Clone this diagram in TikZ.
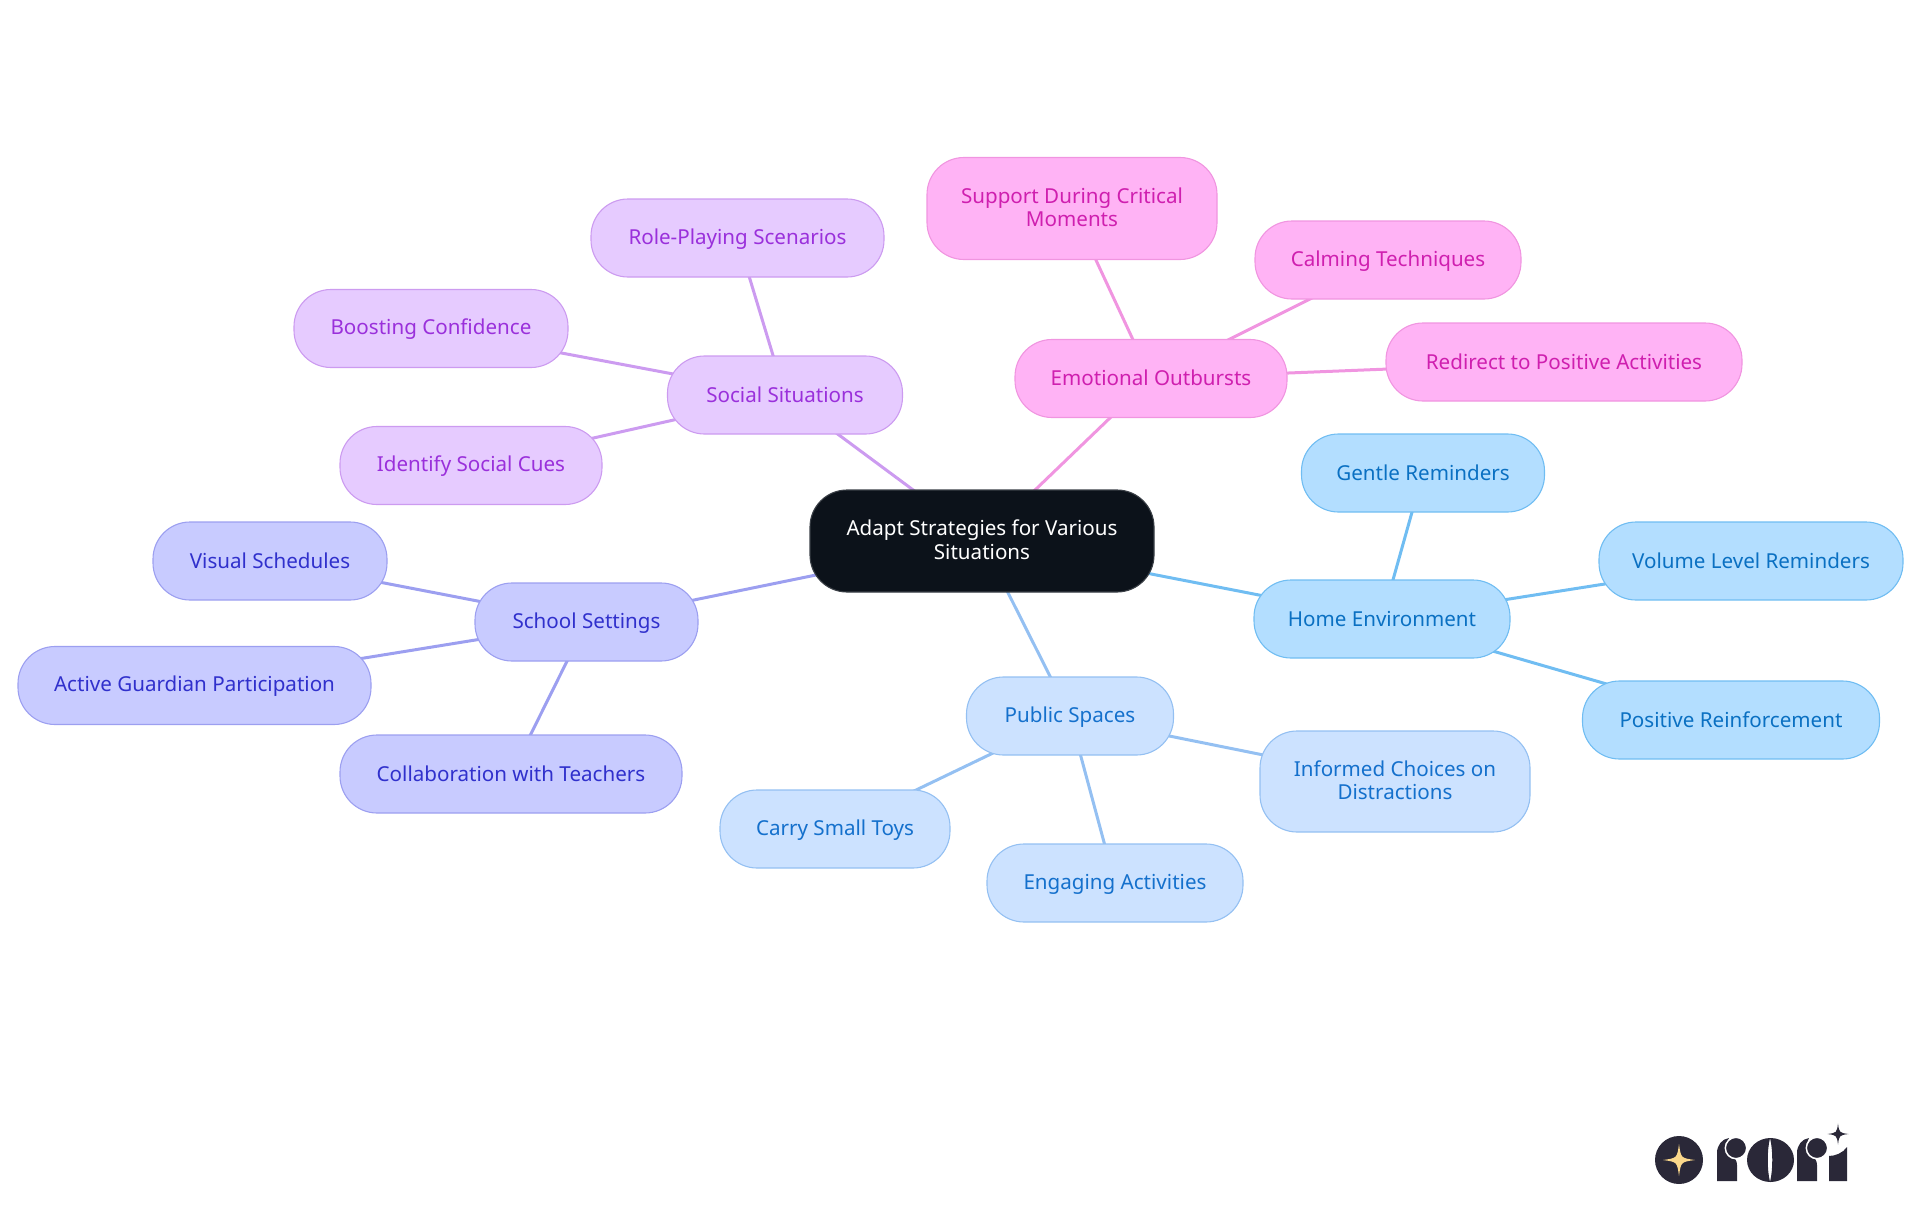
\documentclass[tikz,border=0pt]{standalone}
\usepackage{fontspec}
\usepackage{xcolor}
\setmainfont{Noto Sans}
\usetikzlibrary{backgrounds}
\definecolor{rootfill}{HTML}{0C121A}
\definecolor{rootline}{HTML}{3A3F46}
\definecolor{socialfill}{HTML}{E6CBFF}
\definecolor{socialline}{HTML}{CC9BF0}
\definecolor{socialtext}{HTML}{9A30DB}
\definecolor{emotefill}{HTML}{FFB3F5}
\definecolor{emoteline}{HTML}{F095E0}
\definecolor{emotetext}{HTML}{CF1FAF}
\definecolor{homefill}{HTML}{B3DEFF}
\definecolor{homeline}{HTML}{70BDF2}
\definecolor{hometext}{HTML}{0A70C2}
\definecolor{publicfill}{HTML}{CCE2FF}
\definecolor{publicline}{HTML}{94C0F2}
\definecolor{publictext}{HTML}{1470CC}
\definecolor{schoolfill}{HTML}{C8CBFF}
\definecolor{schoolline}{HTML}{9C9FF0}
\definecolor{schooltext}{HTML}{3030CC}
\definecolor{logodark}{HTML}{2A2838}
\definecolor{logostar}{HTML}{FBD88B}
\newcommand{\boxstrut}{\rule[-3pt]{0pt}{20pt}}

\begin{document}
\begin{tikzpicture}[
    x=1pt, y=-1pt,
    font=\fontsize{20.6}{23.3}\selectfont,
    box/.style={draw, line width=1.1pt, rounded corners=37pt, align=center, inner sep=0pt, minimum height=78pt, execute at begin node=\boxstrut, execute at end node=\boxstrut},
    rootbox/.style={box, fill=rootfill, draw=rootline, text=white, minimum height=102pt},
    socialbox/.style={box, fill=socialfill, draw=socialline, text=socialtext},
    emotebox/.style={box, fill=emotefill, draw=emoteline, text=emotetext},
    homebox/.style={box, fill=homefill, draw=homeline, text=hometext},
    publicbox/.style={box, fill=publicfill, draw=publicline, text=publictext},
    schoolbox/.style={box, fill=schoolfill, draw=schoolline, text=schooltext},
    link/.style={line width=3pt},
    ball/.style={fill=logodark, draw=white, line width=1.5pt},
    sparkle/.pic={\path[pic actions] (0,-1) .. controls (.12,-.12) .. (1,0) .. controls (.12,.12) .. (0,1) .. controls (-.12,.12) .. (-1,0) .. controls (-.12,-.12) .. cycle;}
  ]
    \useasboundingbox (0,0) rectangle (1920,1215);

    \node[rootbox, minimum width=344pt] (root) at (982,541) {Adapt Strategies for Various\\Situations};

    \node[socialbox, minimum width=235pt] (social) at (785,395) {Social Situations};
    \node[socialbox, minimum width=293pt] (roleplay) at (737.5,238) {Role-Playing Scenarios};
    \node[socialbox, minimum width=274pt] (confidence) at (431,328.5) {Boosting Confidence};
    \node[socialbox, minimum width=262pt] (cues) at (471,465.5) {Identify Social Cues};

    \node[emotebox, minimum width=272pt] (outbursts) at (1151,378.5) {Emotional Outbursts};
    \node[emotebox, minimum width=290pt, minimum height=102pt] (support) at (1072,208.5) {Support During Critical\\Moments};
    \node[emotebox, minimum width=266pt] (calming) at (1388,260) {Calming Techniques};
    \node[emotebox, minimum width=356pt] (redirect) at (1564,362) {Redirect to Positive Activities};

    \node[homebox, minimum width=256pt] (home) at (1382,619) {Home Environment};
    \node[homebox, minimum width=243pt] (gentle) at (1423,473) {Gentle Reminders};
    \node[homebox, minimum width=304pt] (volume) at (1751,561) {Volume Level Reminders};
    \node[homebox, minimum width=297pt] (positive) at (1731,720) {Positive Reinforcement};

    \node[publicbox, minimum width=207pt] (public) at (1070,716) {Public Spaces};
    \node[publicbox, minimum width=270pt, minimum height=101pt] (informed) at (1395,781.5) {Informed Choices on\\Distractions};
    \node[publicbox, minimum width=230pt] (toys) at (835,829) {Carry Small Toys};
    \node[publicbox, minimum width=256pt] (engaging) at (1115,883) {Engaging Activities};

    \node[schoolbox, minimum width=223pt] (school) at (586.5,622) {School Settings};
    \node[schoolbox, minimum width=234pt] (visual) at (270,561) {Visual Schedules};
    \node[schoolbox, minimum width=353pt] (guardian) at (194.5,685.5) {Active Guardian Participation};
    \node[schoolbox, minimum width=342pt] (teachers) at (511,774) {Collaboration with Teachers};

    \begin{pgfonlayer}{background}
      \draw[link, socialline] (root.center) -- (social.center);
      \draw[link, socialline] (social.center) -- (roleplay.center);
      \draw[link, socialline] (social.center) -- (confidence.center);
      \draw[link, socialline] (social.center) -- (cues.center);
      \draw[link, emoteline] (root.center) -- (outbursts.center);
      \draw[link, emoteline] (outbursts.center) -- (support.center);
      \draw[link, emoteline] (outbursts.center) -- (calming.center);
      \draw[link, emoteline] (outbursts.center) -- (redirect.center);
      \draw[link, homeline] (root.center) -- (home.center);
      \draw[link, homeline] (home.center) -- (gentle.center);
      \draw[link, homeline] (home.center) -- (volume.center);
      \draw[link, homeline] (home.center) -- (positive.center);
      \draw[link, publicline] (root.center) -- (public.center);
      \draw[link, publicline] (public.center) -- (informed.center);
      \draw[link, publicline] (public.center) -- (toys.center);
      \draw[link, publicline] (public.center) -- (engaging.center);
      \draw[link, schoolline] (root.center) -- (school.center);
      \draw[link, schoolline] (school.center) -- (visual.center);
      \draw[link, schoolline] (school.center) -- (guardian.center);
      \draw[link, schoolline] (school.center) -- (teachers.center);
    \end{pgfonlayer}

    \fill[logodark] (1679,1160) circle (24);
    \pic[scale=16, fill=logostar] at (1679,1160) {sparkle};
    \fill[logodark] (1717,1181) -- (1717,1153) .. controls (1717,1145) and (1722,1139) .. (1729,1138) .. controls (1725,1146) and (1727,1152) .. (1732,1156) .. controls (1735,1158) and (1737,1161) .. (1737,1165) -- (1737,1181) -- cycle;
    \path[ball] (1736,1148) circle (10.7);
    \fill[logodark, even odd rule] (1770.5,1160) ellipse (23.5 and 22) (1770,1138) .. controls (1767,1150) and (1767,1170) .. (1770,1182) .. controls (1773,1170) and (1773,1150) .. (1770,1138);
    \fill[logodark] (1797,1181) -- (1797,1153) .. controls (1797,1145) and (1802,1139) .. (1809,1138) .. controls (1805,1146) and (1807,1152) .. (1812,1156) .. controls (1815,1158) and (1817,1161) .. (1817,1165) -- (1817,1181) -- cycle;
    \path[ball] (1817,1148) circle (10.7);
    \fill[logodark] (1829,1181) -- (1829,1156) .. controls (1835,1156) and (1843,1153) .. (1847,1147) -- (1847,1181) -- cycle;
    \pic[scale=10.5, fill=logodark] at (1838,1134) {sparkle};
  \end{tikzpicture}
\end{document}
